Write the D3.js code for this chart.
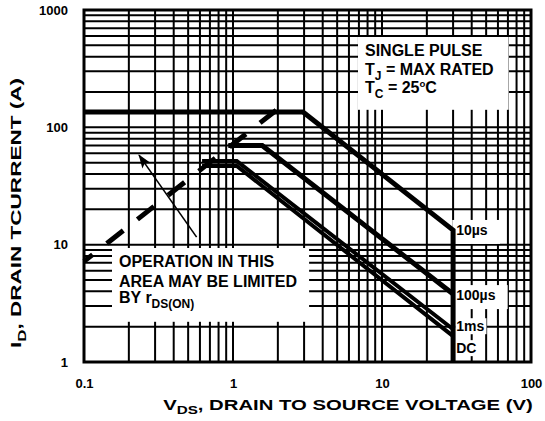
<!DOCTYPE html>
<html>
<head>
<meta charset="utf-8">
<script src="https://cdn.jsdelivr.net/npm/d3@7"></script>
<style>
  body { margin: 0; background: #fff; }
  text { font-family: "Liberation Sans", Arial, sans-serif; font-weight: bold; fill: #000; }
</style>
</head>
<body>
<svg id="soa" width="545" height="421"></svg>
<script>
// axis ticks
const xTicks = [0.1, 1, 10, 100];
const yTicks = [1, 10, 100, 1000];

// SOA boundaries, [VDS (V), ID (A)]
const curve10us = [[0.1, 135], [2.95, 135], [30, 13.3], [30, 1]];
const curve100us = [[0.93, 70], [1.57, 70], [30, 3.8]];
const curve1ms = [[0.62, 51.6], [1.06, 51.6], [30, 1.9]];
const curveDC = [[0.62, 46.8], [1.06, 46.8], [30, 1.66]];
const rdsLimit = [[0.1, 7.2], [1.95, 140]];
const arrowPts = [[0.57, 11.6], [0.234, 58]];

// curve end labels: name, ID at label baseline
const endLabels = ["10\u00b5s", "100\u00b5s", "1ms", "DC"];
const endLabelI = [12.1, 3.37, 1.83, 1.19];
const endLabelV = 31.5;

const width = 545, height = 421;
const margin = {top: 10, right: 14, bottom: 59, left: 84};

const svg = d3.select("#soa");
svg.append("rect").attr("width", width).attr("height", height).attr("fill", "#fff");

const x = d3.scaleLog().domain([0.1, 100]).range([margin.left, width - margin.right]);
const y = d3.scaleLog().domain([1, 1000]).range([height - margin.bottom, margin.top]);

// grid
const grid = svg.append("g").attr("stroke", "#000").attr("stroke-width", 2);
grid.selectAll(".gx").data(x.ticks()).join("line")
  .attr("x1", d => x(d)).attr("x2", d => x(d))
  .attr("y1", y(1)).attr("y2", y(1000));
grid.selectAll(".gy").data(y.ticks()).join("line")
  .attr("y1", d => y(d)).attr("y2", d => y(d))
  .attr("x1", x(0.1)).attr("x2", x(100));
svg.append("rect")
  .attr("x", x(0.1)).attr("y", y(1000))
  .attr("width", x(100) - x(0.1)).attr("height", y(1) - y(1000))
  .attr("fill", "none").attr("stroke", "#000").attr("stroke-width", 3);

// rich text helper: parts = [[str, "sub" | "sup" | null]]
function rich(g, tx, ty, parts, size, anchor) {
  const t = g.append("text").attr("x", tx).attr("y", ty)
    .attr("font-size", size).attr("text-anchor", anchor || "start");
  let shift = 0;
  parts.forEach(([s, kind]) => {
    const sp = t.append("tspan").text(s);
    let target = 0;
    if (kind === "sub") { target = size * 0.3; sp.attr("font-size", size * 0.75); }
    if (kind === "sup") { target = -size * 0.38; sp.attr("font-size", size * 0.6); }
    sp.attr("dy", target - shift);
    shift = target;
  });
  return t;
}

function boxBehind(g, t, pl, pr, pt, pb) {
  const b = t.node().getBBox();
  g.insert("rect", "text")
    .attr("x", b.x - pl).attr("y", b.y - pt)
    .attr("width", b.width + pl + pr).attr("height", b.height + pt + pb)
    .attr("fill", "#fff");
}

// note boxes
const note1 = svg.append("g");
const n1 = [
  rich(note1, 365, 56, [["SINGLE PULSE"]], 16),
  rich(note1, 365, 75, [["T"], ["J", "sub"], [" = MAX RATED"]], 16),
  rich(note1, 365, 93, [["T"], ["C", "sub"], [" = 25"], ["o", "sup"], ["C"]], 16)
];
{
  const bb = n1.map(t => t.node().getBBox());
  const x0 = d3.min(bb, b => b.x), x1 = d3.max(bb, b => b.x + b.width);
  const y0 = d3.min(bb, b => b.y), y1 = d3.max(bb, b => b.y + b.height);
  note1.insert("rect", "text").attr("x", x0 - 7).attr("y", y0 - 5)
    .attr("width", x1 - x0 + 22).attr("height", y1 - y0 + 14).attr("fill", "#fff");
}

const note2 = svg.append("g");
const n2 = [
  rich(note2, 119, 267, [["OPERATION IN THIS"]], 16),
  rich(note2, 119, 287, [["AREA MAY BE LIMITED"]], 16),
  rich(note2, 119, 303, [["BY r"], ["DS(ON)", "sub"]], 16)
];
{
  const bb = n2.map(t => t.node().getBBox());
  const x0 = d3.min(bb, b => b.x), x1 = d3.max(bb, b => b.x + b.width);
  const y0 = d3.min(bb, b => b.y), y1 = d3.max(bb, b => b.y + b.height);
  note2.insert("rect", "text").attr("x", x0 - 7).attr("y", y0 - 5)
    .attr("width", x1 - x0 + 19).attr("height", y1 - y0 + 16).attr("fill", "#fff");
}

// curve labels
const lab = svg.append("g");
endLabels.forEach((name, i) => {
  const g = lab.append("g");
  const t = rich(g, x(endLabelV), y(endLabelI[i]), [[name]], 14);
  if (i < 2) boxBehind(g, t, 4, 12, 2, 6);
  else boxBehind(g, t, 1, 2, 0, 0);
});

// curves
const line = d3.line().x(d => x(d[0])).y(d => y(d[1]));
const curves = svg.append("g").attr("fill", "none").attr("stroke", "#000")
  .attr("stroke-linejoin", "miter");
[curve10us, curve100us].forEach(c => curves.append("path").attr("d", line(c)).attr("stroke-width", 5));
[curve1ms, curveDC].forEach(c => curves.append("path").attr("d", line(c)).attr("stroke-width", 4));

svg.append("path").attr("d", line(rdsLimit))
  .attr("fill", "none").attr("stroke", "#000").attr("stroke-width", 5)
  .attr("stroke-dasharray", "21,18").attr("stroke-dashoffset", 10);

svg.append("defs").append("marker")
  .attr("id", "head").attr("viewBox", "0 0 14 10").attr("refX", 13).attr("refY", 5)
  .attr("markerWidth", 14).attr("markerHeight", 10).attr("markerUnits", "userSpaceOnUse")
  .attr("orient", "auto")
  .append("path").attr("d", "M0,0L14,5L0,10L3,5Z").attr("fill", "#000");
svg.append("path").attr("d", line(arrowPts))
  .attr("stroke", "#000").attr("stroke-width", 1.6).attr("marker-end", "url(#head)");

// axes tick labels
const fmt = d => String(d);
svg.append("g").attr("transform", `translate(0,${y(1)})`)
  .call(d3.axisBottom(x).tickValues(xTicks).tickFormat(fmt).tickSize(0).tickPadding(17))
  .call(g => g.select(".domain").remove())
  .selectAll("text").attr("font-size", 13).attr("font-family", null);
svg.append("g").attr("transform", `translate(${x(0.1)},0)`)
  .call(d3.axisLeft(y).tickValues(yTicks).tickFormat(fmt).tickSize(0).tickPadding(16))
  .call(g => g.select(".domain").remove())
  .selectAll("text").attr("font-size", 13).attr("font-family", null);

// axis titles, stretched horizontally like the original artwork
function stretch(t, target, cx) {
  const w = t.node().getBBox().width;
  const s = target / w;
  t.attr("transform", `translate(${cx},0) scale(${s},1) translate(${-cx},0)`);
}
const xt = rich(svg, 348, 410, [["V"], ["DS", "sub"], [", DRAIN TO SOURCE VOLTAGE (V)"]], 15, "middle");
stretch(xt, 370, 348);

const ytG = svg.append("g").attr("transform", "translate(21,213) rotate(-90)");
const yt = rich(ytG, 0, 0, [["I"], ["D", "sub"], [", DRAIN TCURRENT (A)"]], 15, "middle");
stretch(yt, 270, 0);
</script>
</body>
</html>
